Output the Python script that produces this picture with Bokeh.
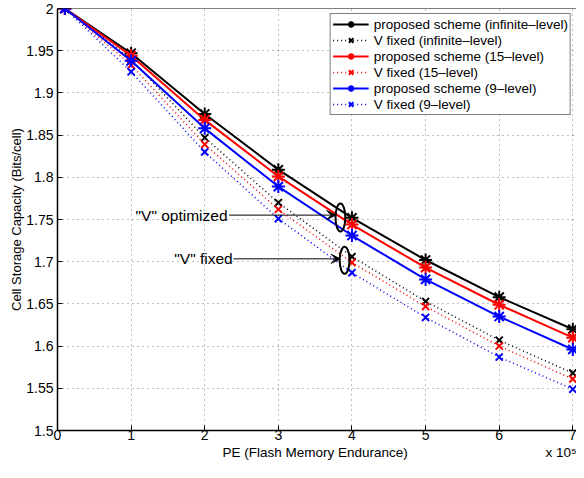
from bokeh.plotting import figure
from bokeh.models import (Range1d, FixedTicker, Label, Arrow, VeeHead, Legend,
                          LinearAxis, Span)
from bokeh.embed import file_html
from bokeh.resources import INLINE

# ---------------- data ----------------
pe = [0.1, 1, 2, 3, 4, 5, 6, 7]  # x 10^5
prop_inf = [2.0, 1.947, 1.875, 1.809, 1.752, 1.702, 1.658, 1.620]
fixed_inf = [2.0, 1.940, 1.847, 1.770, 1.706, 1.653, 1.607, 1.568]
prop_15 = [2.0, 1.944, 1.868, 1.801, 1.744, 1.693, 1.649, 1.610]
fixed_15 = [2.0, 1.933, 1.839, 1.762, 1.699, 1.647, 1.600, 1.561]
prop_9 = [2.0, 1.938, 1.858, 1.789, 1.731, 1.679, 1.635, 1.596]
fixed_9 = [2.0, 1.925, 1.830, 1.751, 1.687, 1.634, 1.587, 1.549]

x_ticks = [0, 1, 2, 3, 4, 5, 6, 7]
y_ticks = [1.5, 1.55, 1.6, 1.65, 1.7, 1.75, 1.8, 1.85, 1.9, 1.95, 2.0]
y_tick_labels = ["1.5", "1.55", "1.6", "1.65", "1.7", "1.75", "1.8",
                 "1.85", "1.9", "1.95", "2"]
x_title = "PE (Flash Memory Endurance)"
x_multiplier = "x 10\u2075"
y_title = "Cell Storage Capacity (Bits/cell)"

series_labels = ["proposed scheme (infinite\u2013level)", "V fixed (infinite\u2013level)",
                 "proposed scheme (15\u2013level)", "V fixed (15\u2013level)",
                 "proposed scheme (9\u2013level)", "V fixed (9\u2013level)"]

FONT = "Liberation Sans"
W, H = 576, 462
BORDER_L, BORDER_T, BORDER_B = 57, 8, 20

p = figure(width=W, height=H, output_backend="svg", toolbar_location=None,
           x_range=Range1d(0, 7.05), y_range=Range1d(1.5, 2.0),
           min_border_left=BORDER_L, min_border_right=0, min_border_top=BORDER_T,
           min_border_bottom=BORDER_B)
p.background_fill_color = "white"
p.border_fill_color = "white"
p.outline_line_color = None

xa = p.below[0]
ya = p.left[0]

for ax in (xa, ya):
    ax.major_tick_in = 5
    ax.major_tick_out = 0
    ax.minor_tick_line_color = None
    ax.axis_line_width = 1.5
    ax.axis_line_color = "black"
    ax.major_tick_line_color = "black"
    ax.major_label_text_font = FONT
    ax.major_label_text_font_size = "14px"
    ax.major_label_text_color = "black"
    ax.axis_label_text_font = FONT
    ax.axis_label_text_font_size = "13px"
    ax.axis_label_text_font_style = "normal"
    ax.axis_label_text_color = "black"

xa.ticker = FixedTicker(ticks=x_ticks)
ya.ticker = FixedTicker(ticks=y_ticks)
ya.major_label_overrides = {t: l for t, l in zip(y_ticks, y_tick_labels)}
ya.axis_label = y_title
xa.major_label_standoff = -1
ya.major_label_standoff = 4
ya.axis_label_standoff = -1

# second row below the x axis: axis title (centred) and the x10^5 multiplier
title_pos = [3.5, 6.84]
xa2 = LinearAxis(ticker=FixedTicker(ticks=title_pos),
                 major_label_overrides={title_pos[0]: x_title,
                                        title_pos[1]: x_multiplier})
xa2.axis_line_color = None
xa2.major_tick_line_color = None
xa2.minor_tick_line_color = None
xa2.major_label_text_font = FONT
xa2.major_label_text_font_size = "13.5px"
xa2.major_label_text_color = "black"
xa2.major_label_standoff = -4
p.add_layout(xa2, "below")

# top border of the box
p.add_layout(Span(location=y_ticks[-1], dimension="width", line_color="black",
                  line_width=1))

for g in (p.xgrid[0], p.ygrid[0]):
    g.grid_line_color = "black"
    g.grid_line_alpha = 0.5
    g.grid_line_dash = "1 4"
    g.grid_line_width = 1

# series
series = [
    (prop_inf, "black", "solid"),
    (fixed_inf, "black", "dotted"),
    (prop_15, "red", "solid"),
    (fixed_15, "red", "dotted"),
    (prop_9, "blue", "solid"),
    (fixed_9, "blue", "dotted"),
]
items = []
for (vals, col, kind), lab in zip(series, series_labels):
    if kind == "solid":
        r1 = p.line(pe, vals, line_color=col, line_width=2)
        r2 = p.scatter(pe, vals, marker="asterisk", size=13, line_color=col,
                       line_width=2)
    else:
        r1 = p.line(pe, vals, line_color=col, line_width=1.5, line_dash="1 3")
        r2 = p.scatter(pe, vals, marker="x", size=10, line_color=col,
                       line_width=2)
    items.append((lab, [r1, r2]))

legend = Legend(items=items, location="top_right")
legend.label_text_font = FONT
legend.label_text_font_size = "13.5px"
legend.label_text_color = "black"
legend.glyph_width = 36
legend.glyph_height = 16
legend.label_height = 16
legend.spacing = 0
legend.padding = 2
legend.margin = 5
legend.label_standoff = 5
legend.border_line_color = "black"
legend.border_line_width = 1
legend.background_fill_color = "white"
legend.background_fill_alpha = 1
p.add_layout(legend)

# annotations
p.ellipse(x=[3.843], y=[1.7524], width=0.133, height=0.033,
          fill_color=None, line_color="black", line_width=2)
p.ellipse(x=[3.90], y=[1.7016], width=0.133, height=0.032,
          fill_color=None, line_color="black", line_width=2)

p.add_layout(Arrow(end=VeeHead(size=9, fill_color="black", line_color="black"),
                   x_start=2.33, y_start=1.7552, x_end=3.78, y_end=1.7552,
                   line_color="black", line_width=1))
p.add_layout(Arrow(end=VeeHead(size=9, fill_color="black", line_color="black"),
                   x_start=2.39, y_start=1.7034, x_end=3.84, y_end=1.7034,
                   line_color="black", line_width=1))

p.add_layout(Label(x=2.31, y=1.7545, text="\"V\" optimized", text_align="right",
                   text_baseline="middle", text_font=FONT, text_font_size="15.5px",
                   text_color="black"))
p.add_layout(Label(x=2.38, y=1.7032, text="\"V\" fixed", text_align="right",
                   text_baseline="middle", text_font=FONT, text_font_size="15.5px",
                   text_color="black"))

open("out.html", "w").write(file_html(p, INLINE))
